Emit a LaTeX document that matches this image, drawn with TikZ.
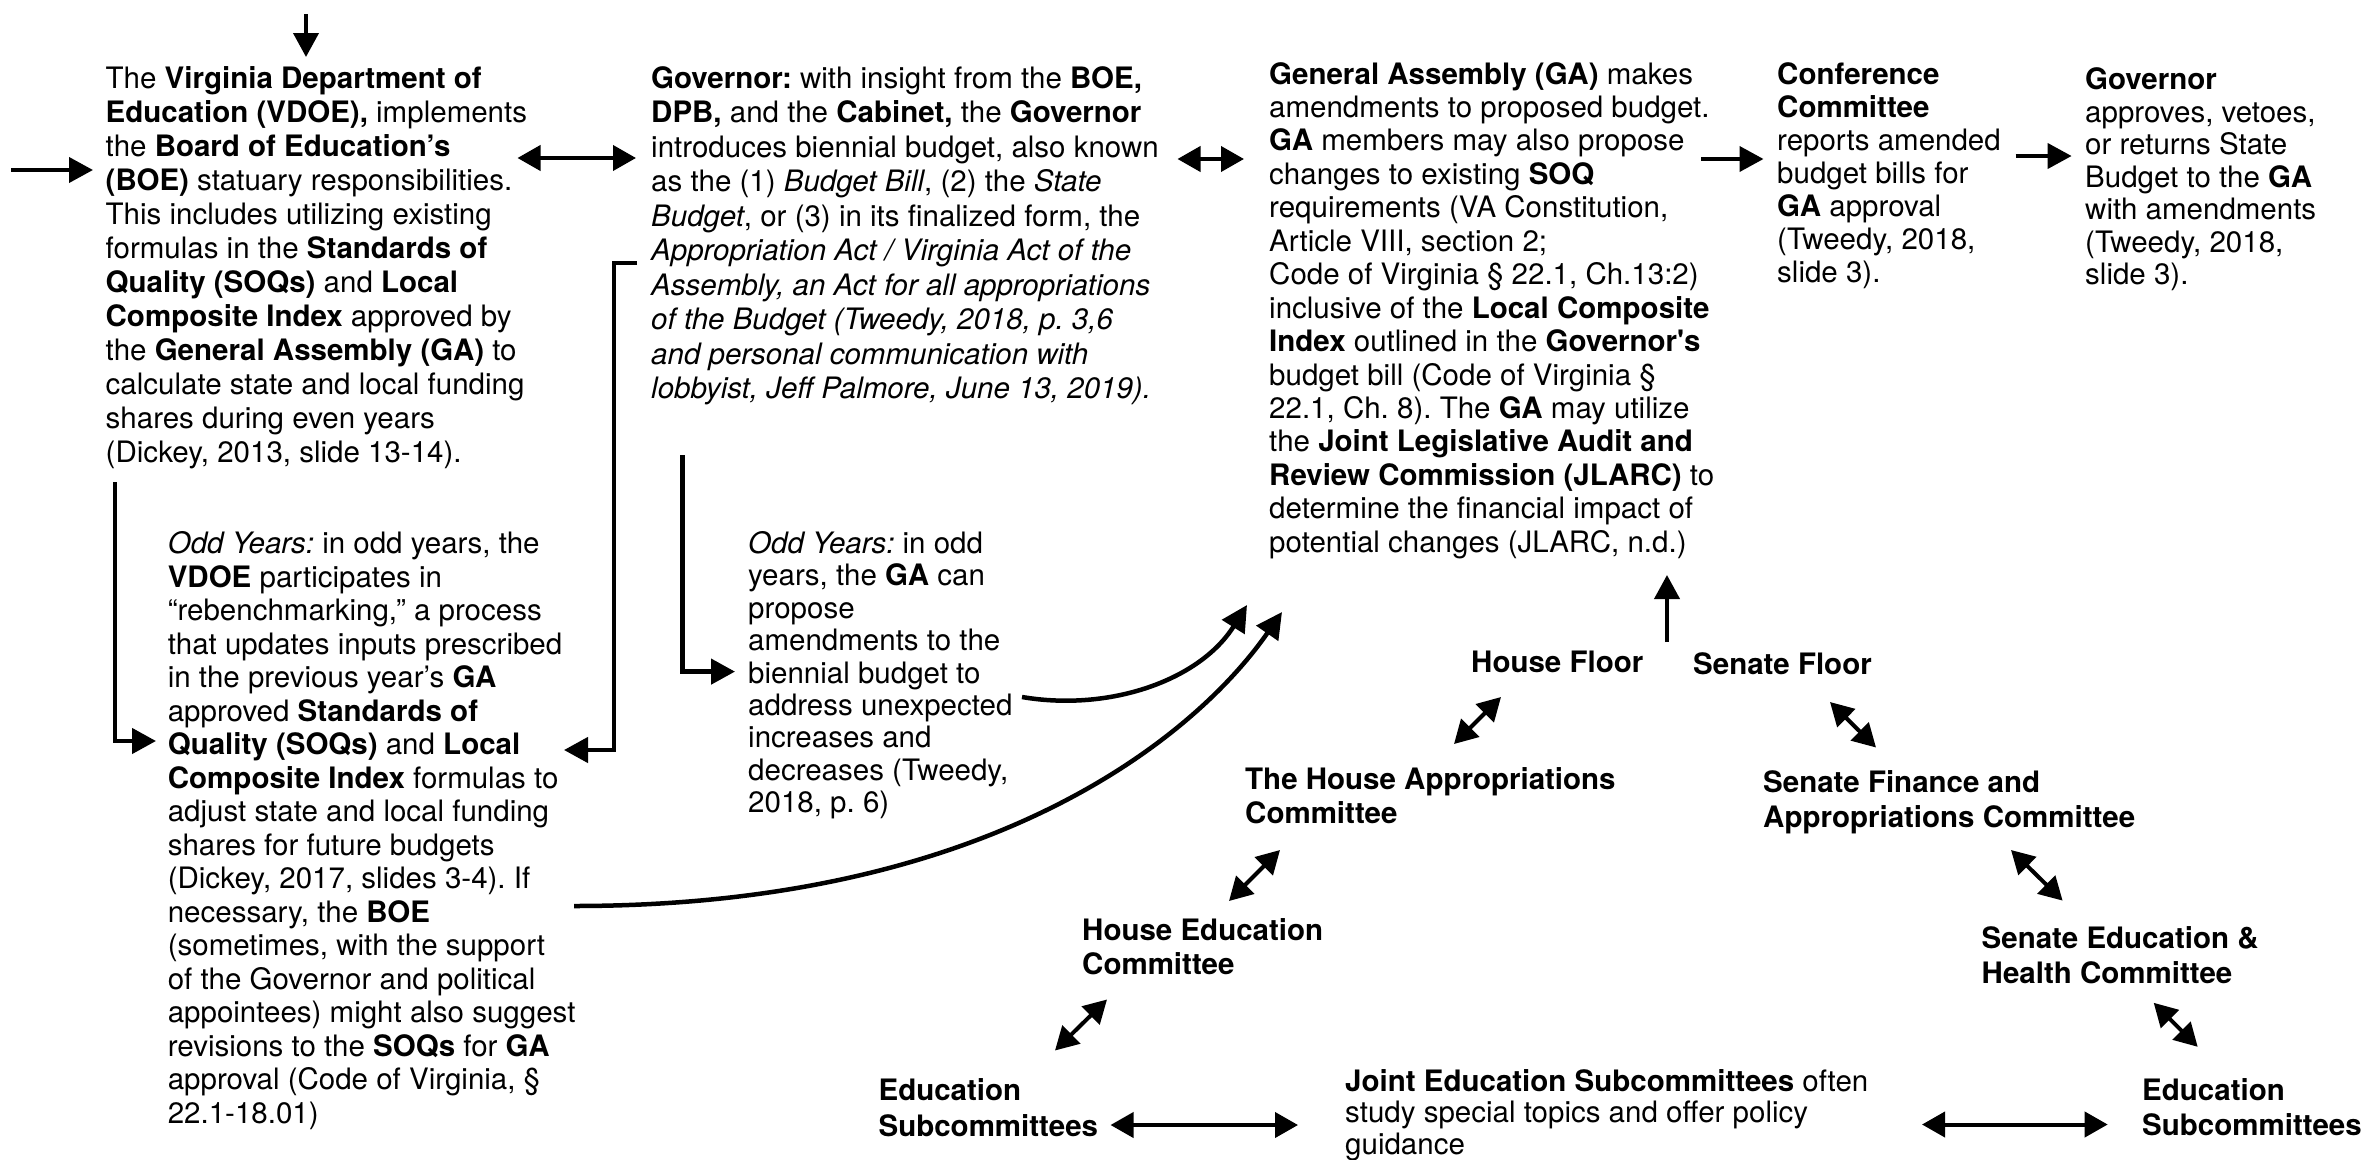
\documentclass[tikz,border=0pt]{standalone}
\usepackage{fontspec}
\setmainfont{TeX Gyre Heros}
\usetikzlibrary{arrows.meta}
\frenchspacing
\newcommand\tblock[2]{\vtop{\baselineskip=#1\lineskiplimit=-1000pt\lineskip=0pt\relax\halign{##\hfil\cr#2\crcr}}}
\tikzset{
  txt/.style={inner sep=0pt, anchor=base west},
  arr/.style={line width=4pt, -{Triangle[length=24pt,width=25pt]}},
  darr/.style={line width=4pt, {Triangle[length=23pt,width=25pt]}-{Triangle[length=23pt,width=25pt]}},
  brk/.style={line width=4.5pt, -{Triangle[length=24pt,width=25pt]}},
  crv/.style={line width=4.5pt, -{Triangle[length=26pt,width=26pt]}}
}
\begin{document}
\begin{tikzpicture}[x=1pt,y=-1pt,font=\fontsize{29.5}{34}\selectfont]
\useasboundingbox (0,0) rectangle (2366,1159);

% ---------- text blocks ----------
\node[txt] (vdoe) at (105.5,88.5) {\tblock{34pt}{%
The \textbf{Virginia Department of}\cr
\textbf{Education (VDOE),} implements\cr
the \textbf{Board of Education’s}\cr
\textbf{(BOE)} statuary responsibilities.\cr
This includes utilizing existing\cr
formulas in the \textbf{Standards of}\cr
\textbf{Quality (SOQs)} and \textbf{Local}\cr
\textbf{Composite Index} approved by\cr
the \textbf{General Assembly (GA)} to\cr
calculate state and local funding\cr
shares during even years\cr
(Dickey, 2013, slide 13-14).}};

\node[txt] (gov) at (651,88) {\tblock{34.5pt}{%
\textbf{Governor:} with insight from the \textbf{BOE,}\cr
\textbf{DPB,} and the \textbf{Cabinet,} the \textbf{Governor}\cr
introduces biennial budget, also known\cr
as the (1) \textit{Budget Bill}, (2) the \textit{State}\cr
\textit{Budget}, or (3) in its finalized form, the\cr
\textit{Appropriation Act / Virginia Act of the}\cr
\textit{Assembly, an Act for all appropriations}\cr
\textit{of the Budget (Tweedy, 2018, p. 3,6}\cr
\textit{and personal communication with}\cr
\textit{lobbyist, Jeff Palmore, June 13, 2019).}}};

\node[txt] (ga) at (1269,84) {\tblock{33.45pt}{%
\textbf{General Assembly (GA)} makes\cr
amendments to proposed budget.\cr
\textbf{GA} members may also propose\cr
changes to existing \textbf{SOQ}\cr
requirements (VA Constitution,\cr
Article VIII, section 2;\cr
Code of Virginia § 22.1, Ch.13:2)\cr
inclusive of the \textbf{Local Composite}\cr
\textbf{Index} outlined in the \textbf{Governor\textquotesingle s}\cr
budget bill (Code of Virginia §\cr
22.1, Ch. 8). The \textbf{GA} may utilize\cr
the \textbf{Joint Legislative Audit and}\cr
\textbf{Review Commission (JLARC)} to\cr
determine the financial impact of\cr
potential changes (JLARC, n.d.)}};

\node[txt] (conf) at (1777,84) {\tblock{33pt}{%
\textbf{Conference}\cr
\textbf{Committee}\cr
reports amended\cr
budget bills for\cr
\textbf{GA} approval\cr
(Tweedy, 2018,\cr
slide 3).}};

\node[txt] (govr) at (2085,89.5) {\tblock{32.5pt}{%
\textbf{Governor}\cr
approves, vetoes,\cr
or returns State\cr
Budget to the \textbf{GA}\cr
with amendments\cr
(Tweedy, 2018,\cr
slide 3).}};

\node[txt] (oddl) at (167.6,553.5) {\tblock{33.5pt}{%
\textit{Odd Years:} in odd years, the\cr
\textbf{VDOE} participates in\cr
“rebenchmarking,” a process\cr
that updates inputs prescribed\cr
in the previous year’s \textbf{GA}\cr
approved \textbf{Standards of}\cr
\textbf{Quality (SOQs)} and \textbf{Local}\cr
\textbf{Composite Index} formulas to\cr
adjust state and local funding\cr
shares for future budgets\cr
(Dickey, 2017, slides 3-4). If\cr
necessary, the \textbf{BOE}\cr
(sometimes, with the support\cr
of the Governor and political\cr
appointees) might also suggest\cr
revisions to the \textbf{SOQs} for \textbf{GA}\cr
approval (Code of Virginia, §\cr
22.1-18.01)}};

\node[txt] (oddm) at (748,553.5) {\tblock{32.4pt}{%
\textit{Odd Years:} in odd\cr
years, the \textbf{GA} can\cr
propose\cr
amendments to the\cr
biennial budget to\cr
address unexpected\cr
increases and\cr
decreases (Tweedy,\cr
2018, p. 6)}};

\node[txt,font=\fontsize{29.5}{34}\selectfont\bfseries] (hfloor) at (1471,672.5) {House Floor};
\node[txt,font=\fontsize{29.5}{34}\selectfont\bfseries] (sfloor) at (1693,674.5) {Senate Floor};
\node[txt,font=\fontsize{29.5}{34}\selectfont\bfseries] (happ) at (1245,789.5) {\tblock{34.4pt}{The House Appropriations\cr Committee}};
\node[txt,font=\fontsize{29.5}{34}\selectfont\bfseries] (sfin) at (1763,792) {\tblock{35pt}{Senate Finance and\cr Appropriations Committee}};
\node[txt,font=\fontsize{29.5}{34}\selectfont\bfseries] (hedu) at (1082,940) {\tblock{34.4pt}{House Education\cr Committee}};
\node[txt,font=\fontsize{29.5}{34}\selectfont\bfseries] (sedu) at (1981.5,948.5) {\tblock{35.3pt}{Senate Education \&\cr Health Committee}};
\node[txt,font=\fontsize{29.5}{34}\selectfont\bfseries] (subl) at (878.4,1100.5) {\tblock{35.5pt}{Education\cr Subcommittees}};
\node[txt] (joint) at (1345,1091) {\tblock{31.5pt}{%
\textbf{Joint Education Subcommittees} often\cr
study special topics and offer policy\cr
guidance}};
\node[txt,font=\fontsize{29.5}{34}\selectfont\bfseries] (subr) at (2142,1100.5) {\tblock{34.5pt}{Education\cr Subcommittees}};

% ---------- connector end points ----------
\coordinate (topA) at (306,14);   \coordinate (topB) at (306,57);
\coordinate (leftA) at (11,170);  \coordinate (leftB) at (93,170);
\coordinate (vgA) at (517.5,158); \coordinate (vgB) at (636,158);
\coordinate (ggA) at (1177.5,159);\coordinate (ggB) at (1244,159);
\coordinate (gcA) at (1701,159);  \coordinate (gcB) at (1763.5,159);
\coordinate (cgA) at (2015.6,156);\coordinate (cgB) at (2071.6,156);
\coordinate (lbA) at (114.8,482); \coordinate (lbB) at (156,741);
\coordinate (rbA) at (637,263);   \coordinate (rbC) at (614,750); \coordinate (rbB) at (564,750);
\coordinate (mbA) at (682.3,455); \coordinate (mbB) at (735,671.6);
\coordinate (c1A) at (1022,697);  \coordinate (c1B) at (1247,605);
\coordinate (c2A) at (574,906);   \coordinate (c2B) at (1282,612);
\coordinate (upA) at (1667,642);  \coordinate (upB) at (1667,575);
\coordinate (hfA) at (1454,744);  \coordinate (hfB) at (1501,697);
\coordinate (sfA) at (1830,702);  \coordinate (sfB) at (1876,747.5);
\coordinate (haA) at (1280,850);  \coordinate (haB) at (1229,901);
\coordinate (sfiA) at (2011,850); \coordinate (sfiB) at (2062.6,900.6);
\coordinate (heA) at (1107,999.5);\coordinate (heB) at (1055,1050.5);
\coordinate (seA) at (2153.7,1002.8);\coordinate (seB) at (2197.7,1046.8);
\coordinate (hlA) at (1110.5,1125);\coordinate (hlB) at (1298,1125);
\coordinate (hrA) at (1922,1124.5);\coordinate (hrB) at (2107.7,1124.5);

% ---------- connectors ----------
\draw[arr] (topA) -- (topB);
\draw[arr] (leftA) -- (leftB);
\draw[darr] (vgA) -- (vgB);
\draw[darr] (ggA) -- (ggB);
\draw[arr] (gcA) -- (gcB);
\draw[arr] (cgA) -- (cgB);
\draw[brk] (lbA) |- (lbB);
\draw[brk] (rbA) -| (rbC) -- (rbB);
\draw[brk] (mbA) |- (mbB);
\draw[crv] (c1A) .. controls (1110,712) and (1200,680) .. (c1B);
\draw[crv] (c2A) .. controls (1000,906) and (1200,730) .. (c2B);
\draw[arr] (upA) -- (upB);
\draw[darr] (hfA) -- (hfB);
\draw[darr] (sfA) -- (sfB);
\draw[darr] (haA) -- (haB);
\draw[darr] (sfiA) -- (sfiB);
\draw[darr] (heA) -- (heB);
\draw[darr] (seA) -- (seB);
\draw[darr] (hlA) -- (hlB);
\draw[darr] (hrA) -- (hrB);
\end{tikzpicture}
\end{document}
